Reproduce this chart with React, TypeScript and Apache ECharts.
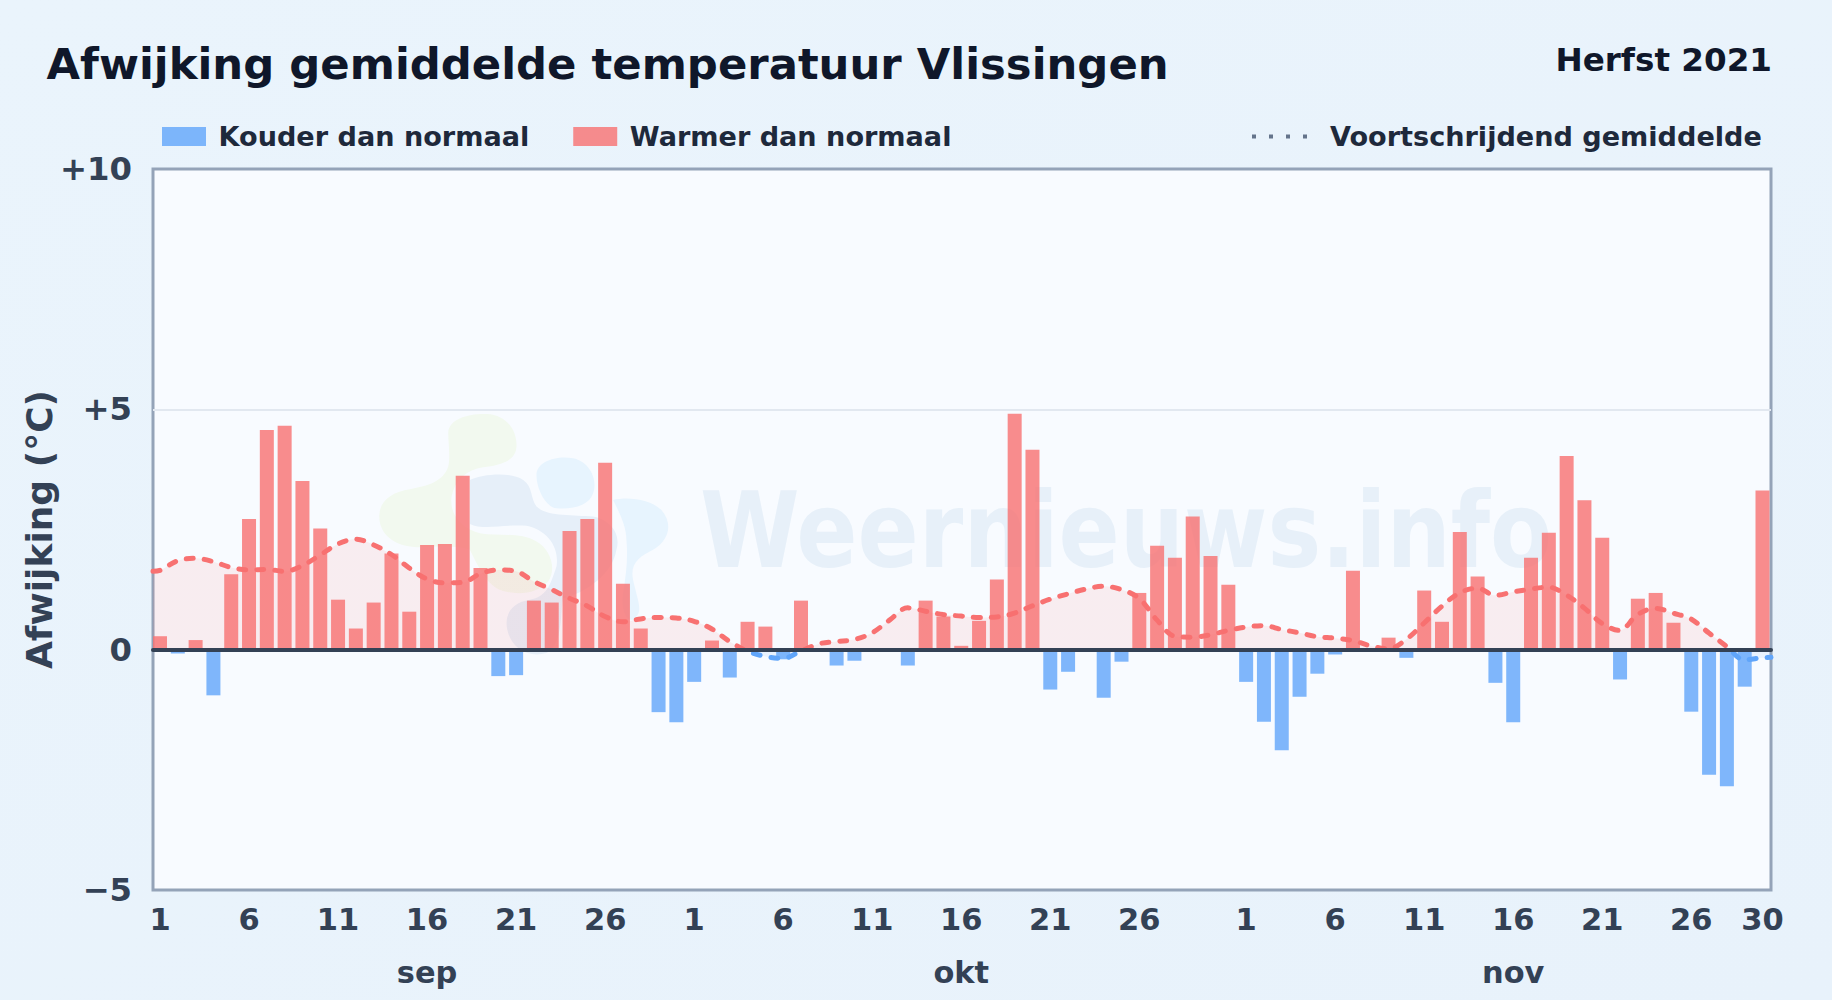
import React, { useEffect, useRef } from "react";
import * as echarts from "echarts";

const FONT = "'DejaVu Sans', sans-serif";

const monthNames = ["sep", "okt", "nov"];
const monthLengths = [30, 31, 30];

const sep = [0.28, -0.08, 0.2, -0.95, 1.57, 2.72, 4.57, 4.66, 3.51, 2.52, 1.04, 0.44, 0.98, 2.0, 0.79, 2.18, 2.2, 3.62, 1.7, -0.55, -0.53, 1.02, 0.98, 2.47, 2.72, 3.89, 1.37, 0.44, -1.3, -1.51];
const okt = [-0.67, 0.19, -0.58, 0.58, 0.48, -0.2, 1.02, 0, -0.33, -0.23, 0, 0, -0.33, 1.02, 0.69, 0.08, 0.6, 1.46, 4.91, 4.16, -0.83, -0.46, 0, -1.0, -0.25, 1.18, 2.16, 1.91, 2.77, 1.95, 1.35];
const nov = [-0.67, -1.5, -2.09, -0.98, -0.5, -0.1, 1.64, 0, 0.25, -0.17, 1.23, 0.58, 2.45, 1.52, -0.69, -1.51, 1.91, 2.43, 4.03, 3.11, 2.33, -0.62, 1.06, 1.18, 0.56, -1.29, -2.6, -2.84, -0.77, 3.31];

const meanStart = 1.63;
const meanSep = [1.65, 1.85, 1.9, 1.83, 1.71, 1.66, 1.67, 1.63, 1.75, 1.97, 2.2, 2.3, 2.18, 1.98, 1.7, 1.47, 1.39, 1.4, 1.58, 1.66, 1.63, 1.42, 1.25, 1.07, 0.91, 0.69, 0.58, 0.64, 0.67, 0.66];
const meanOkt = [0.59, 0.43, 0.17, -0.03, -0.14, -0.18, -0.03, 0.12, 0.17, 0.21, 0.35, 0.62, 0.87, 0.8, 0.73, 0.7, 0.67, 0.68, 0.76, 0.91, 1.05, 1.16, 1.26, 1.32, 1.25, 1.07, 0.62, 0.28, 0.26, 0.31, 0.4];
const meanNov = [0.47, 0.5, 0.42, 0.35, 0.27, 0.24, 0.19, 0.08, 0.02, 0.21, 0.55, 0.9, 1.18, 1.28, 1.13, 1.2, 1.26, 1.3, 1.14, 0.87, 0.55, 0.4, 0.73, 0.86, 0.76, 0.64, 0.35, 0.07, -0.21, -0.17];
const meanEnd = -0.16;

const yTicks: Record<string, string> = { "10": "+10", "5": "+5", "0": "0", "-5": "\u22125" };

const anomaly = [...sep, ...okt, ...nov];
const mean = [...meanSep, ...meanOkt, ...meanNov];

const dayLabels: string[] = [];
const monthLabels: string[] = [];
monthLengths.forEach((len, m) => {
  for (let d = 1; d <= len; d++) {
    const isLast = m === 2 && d === len;
    dayLabels.push((d - 1) % 5 === 0 && d <= 26 || isLast ? String(d) : "");
    monthLabels.push(d === 16 ? monthNames[m] : "");
  }
});

const linePoints: [number, number][] = [
  [-0.393, meanStart],
  ...mean.map((v, i) => [i, v] as [number, number]),
  [90.5, meanEnd],
];

const zeroGradient = (above: string, below: string) =>
  new echarts.graphic.LinearGradient(
    0,
    169,
    0,
    890,
    [
      { offset: 0, color: above },
      { offset: 2 / 3, color: above },
      { offset: 2 / 3, color: below },
      { offset: 1, color: below },
    ],
    true
  );

echarts.graphic.registerShape(
  "wmGreen",
  echarts.graphic.extendPath(
    "M265 100C265 55 330 40 380 42C440 45 472 90 470 140C468 185 420 195 370 202C320 210 285 240 275 290C268 340 300 385 360 400C410 410 480 395 530 425C575 450 590 510 565 545C530 585 460 590 410 565C375 545 350 490 330 450C300 435 230 440 170 442C100 440 55 400 58 345C60 300 100 275 150 268C205 258 250 245 265 200C272 170 265 130 265 100Z",
    {}
  ) as any
);
echarts.graphic.registerShape(
  "wmDark",
  echarts.graphic.extendPath(
    "M330 240C370 222 450 215 490 240C520 262 510 290 530 320C560 350 640 345 700 350C750 360 785 400 770 450C760 520 680 580 610 595C600 650 610 730 560 760C510 775 460 750 445 700C430 650 450 610 510 600C560 590 570 560 590 500C600 440 560 390 500 378C440 372 370 392 330 372Z",
    {}
  ) as any
);
echarts.graphic.registerShape(
  "wmLight",
  echarts.graphic.extendPath(
    "M530 225C530 185 590 165 640 175C690 185 715 240 700 280C690 315 640 330 590 325C560 322 530 270 530 225ZM760 300C800 290 870 295 905 330C940 370 930 420 880 450C840 470 810 490 820 540C830 590 850 630 830 650C810 680 780 640 790 580C800 520 805 470 800 420C800 380 780 340 760 300Z",
    {}
  ) as any
);

export default function App() {
  const ref = useRef<HTMLDivElement>(null);

  useEffect(() => {
    const chart = echarts.init(ref.current!, undefined, { renderer: "svg" });
    const wm = (type: string, fill: string) => ({
      type,
      x: 360,
      y: 400,
      scaleX: 1 / 3,
      scaleY: 1 / 3,
      z: 1,
      silent: true,
      style: { fill },
    });
    chart.setOption({
      animation: false,
      backgroundColor: new echarts.graphic.LinearGradient(0, 0, 1, 1, [
        { offset: 0, color: "#eaf4fc" },
        { offset: 1, color: "#e8f2fb" },
      ]),
      textStyle: { fontFamily: FONT },
      title: [
        {
          text: "Afwijking gemiddelde temperatuur Vlissingen",
          left: 41.5,
          top: 37,
          textStyle: { fontSize: 43.35, fontWeight: "bold", color: "#0f172a", fontFamily: FONT },
        },
        {
          text: "Herfst 2021",
          right: 55,
          top: 38,
          textStyle: { fontSize: 32.6, fontWeight: "bold", color: "#0f172a", fontFamily: FONT },
        },
      ],
      legend: [
        {
          data: [
            { name: "Kouder dan normaal", icon: "rect" },
            { name: "Warmer dan normaal", icon: "rect" },
          ],
          left: 162,
          top: 123,
          padding: 0,
          itemWidth: 44,
          itemHeight: 19,
          itemGap: 44,
          selectedMode: false,
          textStyle: { fontSize: 27.1, fontWeight: "bold", color: "#1e293b", fontFamily: FONT, padding: [0, 0, 0, 7.5] },
        },
        {
          data: ["Voortschrijdend gemiddelde"],
          left: 1250,
          top: 123,
          padding: 0,
          itemWidth: 56,
          itemHeight: 19,
          selectedMode: false,
          itemStyle: { color: "transparent", opacity: 0 },
          lineStyle: { color: "#64748b", width: 4, type: [4, 13], cap: "butt" },
          textStyle: { fontSize: 27.1, fontWeight: "bold", color: "#1e293b", fontFamily: FONT, padding: [0, 0, 0, 17] },
        },
      ],
      grid: [
        { left: 153, top: 169, width: 1618, height: 721, show: true, backgroundColor: "#f8fbff", borderColor: "#94a3b8", borderWidth: 3 },
        { left: 151.1, top: 169, width: 1620.3, height: 721, show: false },
      ],
      xAxis: [
        {
          type: "category",
          gridIndex: 1,
          data: dayLabels,
          position: "bottom",
          axisLine: { show: false, onZero: false },
          axisTick: { show: false },
          splitLine: { show: false },
          axisLabel: {
            interval: 0,
            margin: 14,
            fontSize: 30.5,
            fontWeight: "bold",
            color: "#334155",
            fontFamily: FONT,
          },
        },
        {
          type: "category",
          gridIndex: 1,
          data: monthLabels,
          position: "bottom",
          axisLine: { show: false, onZero: false },
          axisTick: { show: false },
          splitLine: { show: false },
          axisLabel: {
            interval: 0,
            margin: 67,
            fontSize: 30.4,
            fontWeight: "bold",
            color: "#334155",
            fontFamily: FONT,
          },
        },
        {
          type: "value",
          gridIndex: 0,
          min: -0.393,
          max: 90.5,
          z: 6,
          axisLine: { show: true, onZero: true, lineStyle: { color: "#334155", width: 4 } },
          axisTick: { show: false },
          axisLabel: { show: false },
          splitLine: { show: false },
        },
      ],
      yAxis: [
        {
          type: "value",
          gridIndex: 0,
          min: -5,
          max: 10,
          interval: 5,
          name: "Afwijking (\u00b0C)",
          nameLocation: "middle",
          nameRotate: 90,
          nameGap: 96,
          nameMoveOverlap: false,
          nameTextStyle: { fontSize: 36, fontWeight: "bold", color: "#334155", fontFamily: FONT },
          axisLine: { show: false },
          axisTick: { show: false },
          axisLabel: {
            margin: 21,
            fontSize: 32.3,
            fontWeight: "bold",
            color: "#334155",
            fontFamily: FONT,
            formatter: (v: number) => yTicks[String(v)] ?? String(v),
          },
          splitLine: { show: true, showMinLine: false, showMaxLine: false, lineStyle: { color: "#e2e8f0", width: 2 } },
        },
        {
          type: "value",
          gridIndex: 1,
          min: -5,
          max: 10,
          interval: 5,
          axisLine: { show: false },
          axisTick: { show: false },
          axisLabel: { show: false },
          splitLine: { show: false },
        },
      ],
      series: [
        {
          name: "Voortschrijdend gemiddelde",
          type: "line",
          xAxisIndex: 2,
          yAxisIndex: 0,
          data: linePoints,
          smooth: 0.35,
          symbol: "none",
          lineStyle: { width: 5, type: [7, 11], cap: "round", color: zeroGradient("#f87171", "#60a5fa") },
          areaStyle: { origin: 0, color: zeroGradient("rgba(248,113,113,0.15)", "rgba(96,165,250,0.15)") },
          z: 2,
        },
        {
          name: "Warmer dan normaal",
          type: "bar",
          xAxisIndex: 0,
          yAxisIndex: 1,
          data: anomaly.map((v) => (v > 0 ? v : null)),
          barWidth: 14,
          barGap: "-100%",
          itemStyle: { color: "rgba(248,113,113,0.8)" },
          z: 3,
        },
        {
          name: "Kouder dan normaal",
          type: "bar",
          xAxisIndex: 0,
          yAxisIndex: 1,
          data: anomaly.map((v) => (v < 0 ? v : null)),
          barWidth: 14,
          barGap: "-100%",
          itemStyle: { color: "rgba(96,165,250,0.8)" },
          z: 3,
        },
      ],
      graphic: [
        wm("wmGreen", "#f2f9ef"),
        wm("wmDark", "#e6eff9"),
        wm("wmLight", "#e7f4fe"),
        {
          type: "text",
          x: 700,
          y: 531,
          scaleY: 1.16,
          z: 1,
          silent: true,
          style: {
            text: "Weernieuws.info",
            font: `bold 90.3px ${FONT}`,
            fill: "#e7f0f9",
            verticalAlign: "middle",
          },
        },
      ],
    });
    return () => chart.dispose();
  }, []);

  return <div ref={ref} style={{ position: "fixed", left: 0, top: 0, width: 1832, height: 1000 }} />;
}
